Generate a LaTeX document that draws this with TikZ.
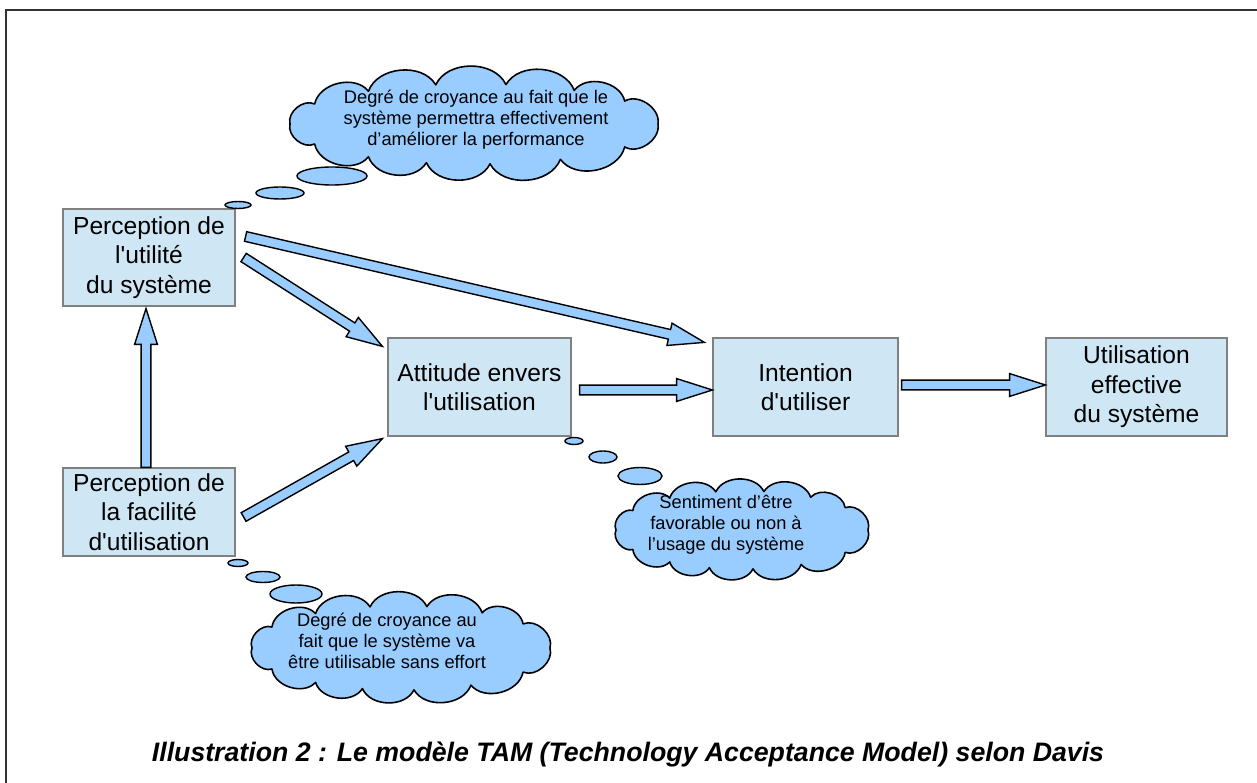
\documentclass[tikz,border=0pt]{standalone}
\usepackage{fontspec}
\setmainfont{Liberation Sans}
\usetikzlibrary{calc, positioning}
\definecolor{boxfill}{HTML}{CFE7F5}
\definecolor{boxline}{HTML}{808080}
\definecolor{skyfill}{HTML}{99CCFF}
\tikzset{
    box/.style={draw=boxline, fill=boxfill, line width=0.7pt, align=center, inner sep=0pt, font=\fontsize{14}{16.8}\selectfont},
    blockarrow/.style={draw=black, fill=skyfill, line width=0.8pt, line join=miter},
    thought/.style={draw=black, fill=skyfill, line width=0.9pt, line join=round},
    thoughttext/.style={align=center, inner sep=0pt, font=\fontsize{10.4}{12}\selectfont},
    bubble/.style={draw=black, fill=skyfill, line width=0.8pt}
}
\newcommand{\tamarrow}[2]{%
    \coordinate (ba-a) at (#1);
    \coordinate (ba-b) at (#2);
    \coordinate (ba-m) at ($(ba-b)!20.4pt!(ba-a)$);
    \draw[blockarrow] ($(ba-a)!2.8pt!90:(ba-b)$) -- ($(ba-m)!2.8pt!90:(ba-b)$)
        -- ($(ba-m)!6.5pt!90:(ba-b)$) -- (ba-b) -- ($(ba-m)!6.5pt!-90:(ba-b)$)
        -- ($(ba-m)!2.8pt!-90:(ba-b)$) -- ($(ba-a)!2.8pt!-90:(ba-b)$) -- cycle;
}
% cloud: centre x, centre y, x radius, y radius
\newcommand{\tamcloud}[4]{%
    \draw[thought] ({#1+#3},{#2})
        \foreach \t in {35,62,85,105,125,150,180,210,235,258,280,303,325,360} {
            to[bend left=65] ({#1+#3*cos(\t)},{#2+#4*sin(\t)})
        } -- cycle;
}

\begin{document}
\begin{tikzpicture}[x=0.02cm, y=-0.02cm]
    \useasboundingbox (0,0) rectangle (1257,783);
    % Frame (top and left only)
    \draw[line width=1pt, black!80] (6,783) -- (6,10) -- (1257,10);

    % Boxes
    \node[box, minimum width=3.44cm, minimum height=1.94cm] (util) at (149,257.5)
        {Perception de\\l\textquotesingle utilité\\du système};
    \node[box, minimum width=3.44cm, minimum height=1.76cm] (fac) at (149,512)
        {Perception de\\la facilité\\d\textquotesingle utilisation};
    \node[box, minimum width=3.66cm, minimum height=1.96cm] (att) at (479.5,387)
        {Attitude envers\\l\textquotesingle utilisation};
    \node[box, minimum width=3.70cm, minimum height=1.96cm] (int) at (805.5,387)
        {Intention\\d\textquotesingle utiliser};
    \node[box, minimum width=3.62cm, minimum height=1.96cm] (use) at (1136.5,387)
        {Utilisation\\effective\\du système};

    % Block arrows
    \tamarrow{[shift={(8,0)}]util.east}{[shift={(-5,9)}]att.north west}
    \tamarrow{[shift={(10,-21)}]util.east}{[shift={(-8,5)}]int.north west}
    \tamarrow{[shift={(-3,0)}]fac.north}{[shift={(-3,2)}]util.south}
    \tamarrow{[shift={(8,5)}]fac.east}{[shift={(-5,2)}]att.south west}
    \tamarrow{[shift={(8,3)}]att.east}{[shift={(0,3)}]int.west}
    \tamarrow{[shift={(3,-2)}]int.east}{[shift={(0,-2)}]use.west}

    % Thought bubbles
    \draw[bubble] (238,205) ellipse (13 and 3.5);
    \draw[bubble] (280,193) ellipse (24 and 6);
    \draw[bubble] (332,176) ellipse (35 and 9);
    \tamcloud{474}{124}{184}{40}
    \node[thoughttext] (cloudutil) at (476,120)
        {Degré de croyance au fait que le\\système permettra effectivement\\d’améliorer la performance};

    \draw[bubble] (574,441) ellipse (9 and 3.5);
    \draw[bubble] (603,457) ellipse (14 and 6);
    \draw[bubble] (640,476) ellipse (22 and 8.5);
    \tamcloud{742}{530}{126}{39}
    \node[thoughttext] (cloudatt) at (726,525)
        {Sentiment d’être\\favorable ou non à\\l’usage du système};

    \draw[bubble] (238,563) ellipse (10 and 3.5);
    \draw[bubble] (263,577) ellipse (17 and 5.5);
    \draw[bubble] (296,594) ellipse (26 and 9);
    \tamcloud{401}{648}{149}{42}
    \node[thoughttext] (cloudfac) at (387,641)
        {Degré de croyance au\\fait que le système va\\être utilisable sans effort};

    % Caption
    \node[font=\fontsize{15.2}{18}\selectfont\bfseries\itshape] (caption) at (628,754)
        {Illustration 2 : Le modèle TAM (Technology Acceptance Model) selon Davis};
\end{tikzpicture}
\end{document}
